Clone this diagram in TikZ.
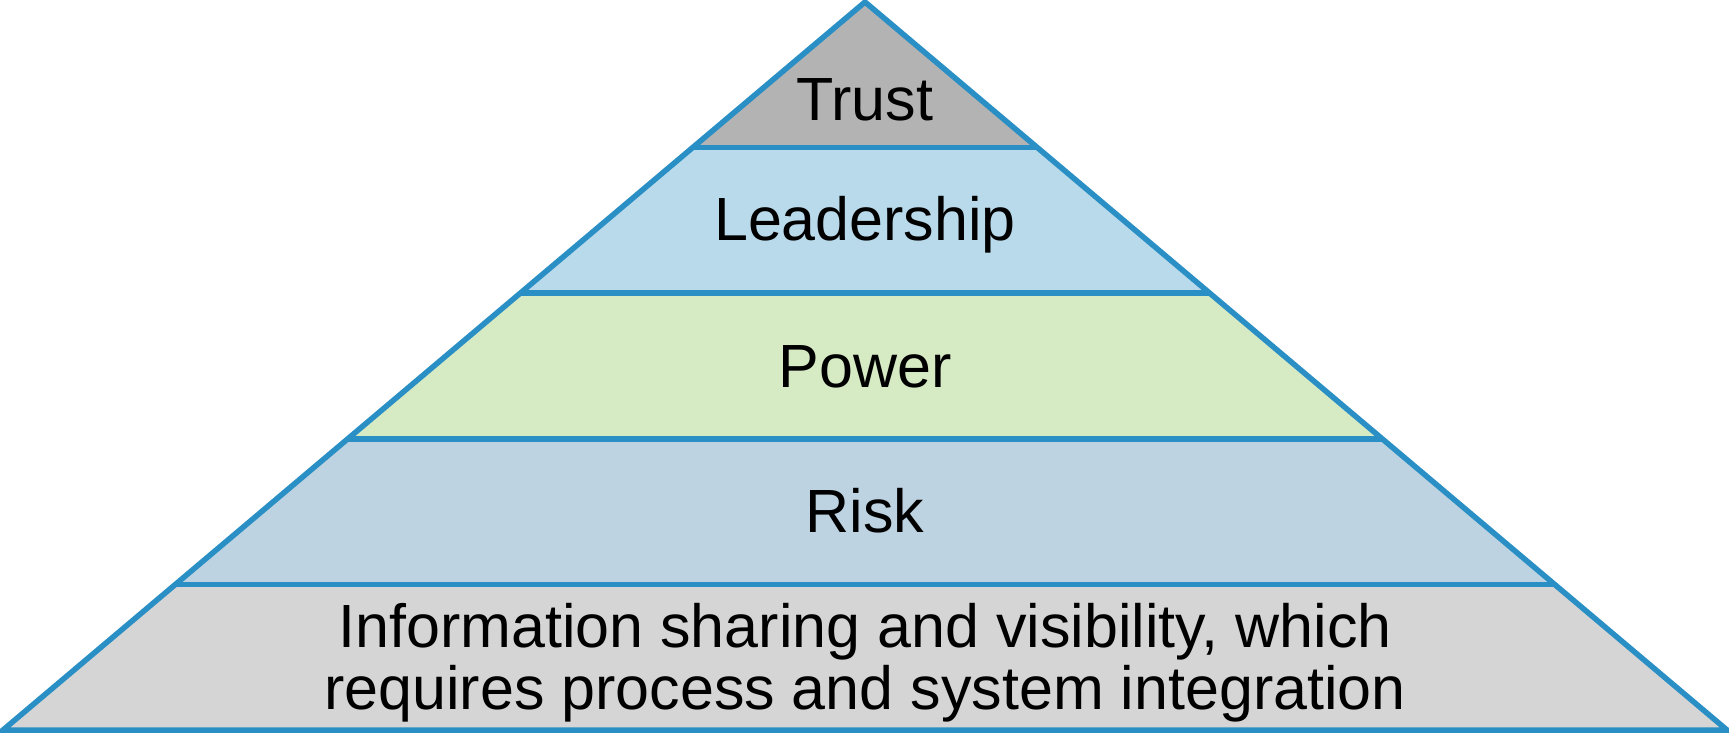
\documentclass[tikz,border=0pt]{standalone}
\usepackage{fontspec}
\setmainfont{Liberation Sans}
\usetikzlibrary{calc}
\definecolor{edge}{HTML}{2A8FC4}
\definecolor{ctrust}{HTML}{B3B3B3}
\definecolor{clead}{HTML}{B9DAEA}
\definecolor{cpower}{HTML}{D6EAC4}
\definecolor{crisk}{HTML}{BDD3E1}
\definecolor{cinfo}{HTML}{D5D5D5}
\tikzset{
  layer/.style={draw=edge, line width=5.5pt, line join=miter},
  lbl/.style={font=\fontsize{61}{62}\selectfont, text=black, inner sep=0pt, anchor=base, align=center}
}
\begin{document}
\begin{tikzpicture}[x=1pt,y=-1pt]
\useasboundingbox (0,0) rectangle (1729,732);
\coordinate (A) at (865,2);
\coordinate (BL) at (3,730);
\coordinate (BR) at (1727,730);
\foreach \i in {1,...,5}{
  \coordinate (L\i) at ($(A)!\i/5!(BL)$);
  \coordinate (R\i) at ($(A)!\i/5!(BR)$);
}
\fill[ctrust] (A) -- (L1) -- (R1) -- cycle;
\fill[clead] (L1) -- (L2) -- (R2) -- (R1) -- cycle;
\fill[cpower] (L2) -- (L3) -- (R3) -- (R2) -- cycle;
\fill[crisk] (L3) -- (L4) -- (R4) -- (R3) -- cycle;
\fill[cinfo] (L4) -- (L5) -- (R5) -- (R4) -- cycle;
\draw[layer] (A) -- (BL) -- (BR) -- cycle;
\draw[layer] (L1) -- (R1);
\draw[layer] (L2) -- (R2);
\draw[layer] (L3) -- (R3);
\draw[layer] (L4) -- (R4);
\node[lbl] (trust) at (865,120) {Trust};
\node[lbl] (lead) at (865,240) {Leadership};
\node[lbl] (power) at (865,387) {Power};
\node[lbl] (risk) at (865,532) {Risk};
\node[lbl, anchor=north] (info) at (865,603) {Information sharing and visibility, which\\requires process and system integration};
\end{tikzpicture}
\end{document}
